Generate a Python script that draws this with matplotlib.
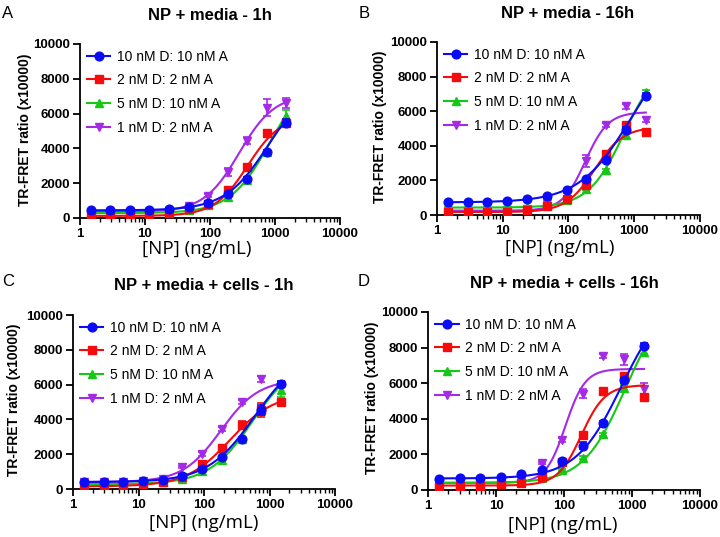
import numpy as np
import matplotlib.pyplot as plt

plt.rcParams["font.family"] = ["Liberation Sans", "DejaVu Sans"]

W, H = 720, 537

# NP concentration series (ng/mL), 2-fold dilutions
conc = [1.46, 2.93, 5.86, 11.7, 23.4, 46.9, 93.75, 187.5, 375, 750, 1500]

labels = ["10 nM D: 10 nM A", "2 nM D: 2 nM A", "5 nM D: 10 nM A", "1 nM D: 2 nM A"]
colors = ["#0b0bf5", "#f50b0b", "#14c814", "#a52ae6"]
markers = ["o", "s", "^", "v"]

titles = ["NP + media - 1h", "NP + media - 16h",
          "NP + media + cells - 1h", "NP + media + cells - 16h"]
letters = ["A", "B", "C", "D"]
yticks = [0, 2000, 4000, 6000, 8000, 10000]
xticks = [1, 10, 100, 1000, 10000]
xtick_labels = ["1", "10", "100", "1000", "10000"]

# mean TR-FRET ratio, order: blue, red, green, purple
a_vals = [
    [440, 440, 460, 470, 540, 650, 870, 1380, 2260, 3780, 5480],
    [120, 130, 140, 180, 290, 500, 820, 1620, 2920, 4880, 5450],
    [290, 290, 300, 320, 370, 460, 750, 1200, 2180, 3780, 5880],
    [300, 310, 330, 360, 430, 680, 1280, 2640, 4450, 6350, 6620],
]
a_err = [
    [40, 40, 40, 40, 50, 60, 80, 100, 120, 150, 200],
    [30, 30, 30, 30, 40, 50, 80, 150, 150, 200, 150],
    [30, 30, 30, 30, 40, 50, 60, 80, 100, 150, 350],
    [30, 30, 30, 30, 40, 60, 100, 250, 200, 500, 300],
]
b_vals = [
    [730, 730, 780, 820, 940, 1110, 1420, 2060, 3160, 4940, 6880],
    [150, 160, 170, 200, 300, 500, 900, 1720, 3550, 5180, 4800],
    [420, 420, 430, 450, 480, 620, 880, 1500, 2580, 4620, 7100],
    [250, 250, 260, 280, 350, 700, 1200, 3100, 5220, 6280, 5500],
]
b_err = [
    [40, 40, 40, 40, 50, 60, 80, 100, 120, 150, 150],
    [30, 30, 30, 30, 40, 50, 80, 120, 150, 150, 100],
    [30, 30, 30, 30, 40, 50, 60, 80, 100, 150, 150],
    [30, 30, 30, 30, 40, 60, 100, 350, 120, 150, 150],
]
c_vals = [
    [390, 400, 410, 440, 500, 740, 1150, 1820, 2870, 4540, 6030],
    [150, 160, 200, 270, 400, 700, 1430, 2340, 3680, 4560, 4980],
    [260, 270, 290, 330, 420, 600, 1030, 1680, 2900, 4480, 5680],
    [380, 400, 420, 460, 600, 1280, 2010, 3450, 4980, 6320, 6000],
]
c_err = [
    [40, 40, 40, 40, 50, 60, 80, 100, 120, 300, 150],
    [30, 30, 30, 30, 40, 50, 100, 180, 250, 400, 150],
    [30, 30, 30, 30, 40, 50, 60, 80, 100, 150, 400],
    [30, 30, 30, 30, 40, 60, 100, 120, 120, 150, 150],
]
d_vals = [
    [620, 650, 660, 740, 890, 1120, 1630, 2500, 3740, 6170, 8090],
    [190, 200, 250, 320, 400, 740, 1550, 3110, 5550, 6420, 5200],
    [390, 400, 420, 450, 500, 650, 1130, 1820, 3130, 5740, 7770],
    [380, 390, 400, 430, 500, 1500, 2800, 5420, 7520, 7350, 5700],
]
d_err = [
    [40, 40, 40, 40, 50, 60, 80, 220, 120, 150, 150],
    [30, 30, 30, 30, 40, 50, 80, 120, 150, 150, 100],
    [30, 30, 30, 30, 40, 50, 60, 80, 100, 150, 150],
    [30, 30, 30, 30, 40, 60, 100, 250, 120, 300, 300],
]

# 4PL fit parameters (bottom, top, EC50, hill) per series
a_fit = [(440, 8000, 800, 1.3), (120, 5900, 380, 1.7),
         (280, 8500, 850, 1.4), (350, 7100, 280, 1.6)]
b_fit = [(730, 10500, 900, 1.1), (170, 5100, 250, 2.0),
         (430, 9000, 700, 1.6), (250, 5950, 180, 2.5)]
c_fit = [(400, 8000, 600, 1.2), (150, 5500, 250, 1.3),
         (280, 7500, 550, 1.3), (400, 6300, 180, 1.5)]
d_fit = [(650, 11000, 700, 1.3), (250, 5900, 180, 2.5),
         (400, 11000, 800, 1.4), (400, 6800, 105, 3.0)]

panels = [(a_vals, a_err, a_fit), (b_vals, b_err, b_fit),
          (c_vals, c_err, c_fit), (d_vals, d_err, d_fit)]

# layout in pixels: axes box (left, top, right, bottom)
boxes = [(80, 44, 340, 218), (437, 42, 700, 215),
         (73, 315, 335, 489), (428, 312, 700, 490)]
title_pos = [(210, 15), (568, 13), (204, 285), (564, 283)]
letter_pos = [(8, 13), (364, 13), (8, 281), (364, 281)]
xlabel_pos = [(197, 249), (560, 248), (204, 523), (563, 525)]
ylabel_pos = [(25, 130), (380, 127), (14, 400), (372, 398)]


def four_pl(x, bottom, top, ec50, hill):
    return bottom + (top - bottom) / (1 + (ec50 / x) ** hill)


fig = plt.figure(figsize=(W / 100, H / 100), dpi=100)
xs = np.logspace(np.log10(conc[0]), np.log10(conc[-1]), 200)

for i, (vals, errs, fits) in enumerate(panels):
    l, t, r, b = boxes[i]
    ax = fig.add_axes([l / W, 1 - b / H, (r - l) / W, (b - t) / H])
    ax.set_xscale("log")

    for j in range(4):
        z = 10 - j
        ax.plot(xs, four_pl(xs, *fits[j]), color=colors[j], lw=1.5, zorder=z)
        ax.errorbar(conc, vals[j], yerr=errs[j], fmt=markers[j], color=colors[j],
                    ms=6.3, elinewidth=1.2, capsize=3, capthick=1.2, zorder=z + 0.5)
        # legend proxy: marker on a line
        ax.plot([], [], color=colors[j], marker=markers[j], ms=6.3, lw=1.5, label=labels[j])

    ax.set_xlim(1, 10000)
    ax.set_ylim(0, 10000)
    ax.set_xticks(xticks)
    ax.set_xticklabels(xtick_labels)
    ax.set_yticks(yticks)
    ax.set_yticklabels([str(v) for v in yticks])
    for s in ["top", "right"]:
        ax.spines[s].set_visible(False)
    for s in ["left", "bottom"]:
        ax.spines[s].set_linewidth(1.3)
    ax.tick_params(which="major", direction="out", length=5, width=1.3, labelsize=9.5, pad=2)
    ax.tick_params(which="minor", direction="out", length=3, width=1.0)
    for lbl in ax.get_xticklabels() + ax.get_yticklabels():
        lbl.set_fontweight("bold")

    ax.legend(loc="upper left", bbox_to_anchor=(0.005, 1.0), frameon=False,
              fontsize=10, handlelength=1.7, handletextpad=0.5, labelspacing=0.7,
              borderaxespad=0)

    fig.text(title_pos[i][0] / W, 1 - title_pos[i][1] / H, titles[i],
             ha="center", va="center", fontsize=12, fontweight="bold")
    fig.text(letter_pos[i][0] / W, 1 - letter_pos[i][1] / H, letters[i],
             ha="center", va="center", fontsize=12)
    fig.text(xlabel_pos[i][0] / W, 1 - xlabel_pos[i][1] / H, "[NP] (ng/mL)",
             ha="center", va="center", fontsize=13.5, family=["Open Sans", "DejaVu Sans"])
    fig.text(ylabel_pos[i][0] / W, 1 - ylabel_pos[i][1] / H, "TR-FRET ratio (x10000)",
             ha="center", va="center", rotation=90, fontsize=10, fontweight="bold")

fig.savefig("out.png", dpi=100)
